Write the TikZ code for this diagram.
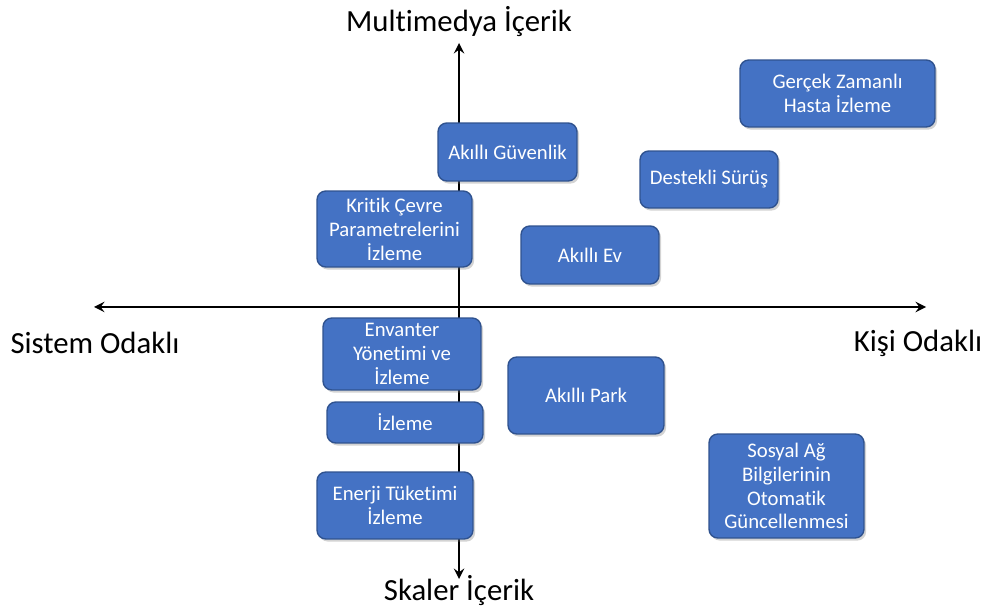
\documentclass[tikz,border=0pt]{standalone}
\usepackage{fontspec}
\setmainfont{Carlito}[Ligatures={NoCommon}]
\usepackage{tikz}
\usetikzlibrary{arrows, shadows, positioning}
\tikzset{>=stealth}
\definecolor{boxblue}{HTML}{4472C4}
\definecolor{boxedge}{HTML}{2F528F}
\tikzset{
  app/.style={rectangle, rounded corners=5pt, fill=boxblue, draw=boxedge,
    line width=0.8pt, text=white, align=center,
    font=\fontsize{11.8}{13.6}\selectfont, inner sep=1pt,
    drop shadow={opacity=0.35, shadow xshift=1.2pt, shadow yshift=-1.5pt}},
  axislabel/.style={font=\fontsize{17.5}{20}\selectfont, inner sep=0pt}
}

\begin{document}
\begin{tikzpicture}[x=0.02cm, y=-0.02cm, >=stealth]
	\useasboundingbox (0,0) rectangle (987,607);

	% axes
	\coordinate (W) at (94,307);
	\coordinate (E) at (926,307);
	\coordinate (N) at (459,43);
	\coordinate (S) at (459,579);
	\draw[<->, line width=1.6pt] (W) -- (E);
	\draw[<->, line width=1.6pt] (N) -- (S);

	\node[axislabel] (Multi)  at (459,22)  {Multimedya İçerik};
	\node[axislabel] (Skaler) at (459,591) {Skaler İçerik};
	\node[axislabel] (Sistem) at (95,343)  {Sistem Odaklı};
	\node[axislabel] (Kisi)   at (918,343) {Kişi Odaklı};

	% applications
	\node[app, minimum width=3.9cm,  minimum height=1.34cm] (Hasta)    at (837.5,93.5) {Gerçek Zamanlı\\Hasta İzleme};
	\node[app, minimum width=2.78cm, minimum height=1.16cm] (Guvenlik) at (507.5,152)  {Akıllı Güvenlik};
	\node[app, minimum width=2.76cm, minimum height=1.14cm] (Surus)    at (709,179.5)  {Destekli Sürüş};
	\node[app, minimum width=3.1cm,  minimum height=1.52cm] (Kritik)   at (394.5,229)  {Kritik Çevre\\Parametrelerini\\İzleme};
	\node[app, minimum width=2.76cm, minimum height=1.16cm] (Ev)       at (590,255)    {Akıllı Ev};
	\node[app, minimum width=3.16cm, minimum height=1.44cm] (Envanter) at (402,354)    {Envanter\\Yönetimi ve\\İzleme};
	\node[app, minimum width=3.12cm, minimum height=0.82cm] (Izleme)   at (405,422.5)  {İzleme};
	\node[app, minimum width=3.12cm, minimum height=1.54cm] (Park)     at (586,395.5)  {Akıllı Park};
	\node[app, minimum width=3.1cm,  minimum height=2.08cm] (Sosyal)   at (786.5,486)  {Sosyal Ağ\\Bilgilerinin\\Otomatik\\Güncellenmesi};
	\node[app, minimum width=3.12cm, minimum height=1.34cm] (Enerji)   at (395,505.5)  {Enerji Tüketimi\\İzleme};
\end{tikzpicture}
\end{document}
